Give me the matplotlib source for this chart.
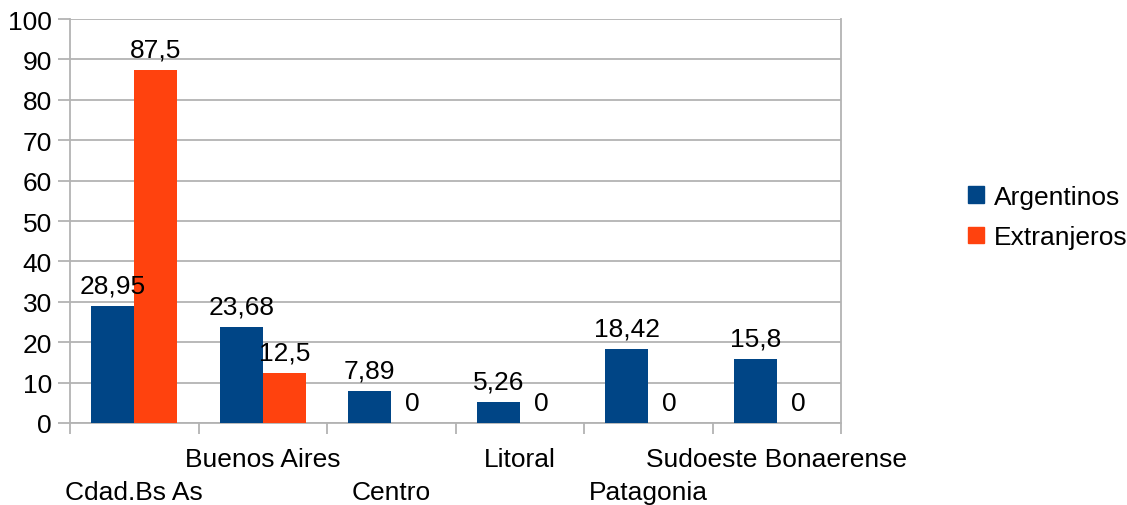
# Grouped bar chart: Argentinos vs Extranjeros by region

import matplotlib.pyplot as plt
from matplotlib.patches import Patch
import numpy as np

plt.rcParams['font.family'] = ['Liberation Sans', 'DejaVu Sans']

# Data
regions = ["Cdad.Bs As", "Buenos Aires", "Centro", "Litoral", "Patagonia", "Sudoeste Bonaerense"]
argentinos = [28.95, 23.68, 7.89, 5.26, 18.42, 15.8]
extranjeros = [87.5, 12.5, 0, 0, 0, 0]

blue = "#004586"
orange = "#ff420e"
gray = "#b3b3b3"

fig = plt.figure(figsize=(11.27, 5.06), dpi=100)
ax = fig.add_axes([70 / 1127, (506 - 424) / 506, 771 / 1127, 404 / 506])

x = np.arange(len(regions))
w = 0.335
b1 = ax.bar(x - w / 2, argentinos, w, color=blue, zorder=3)
b2 = ax.bar(x + w / 2, extranjeros, w, color=orange, zorder=3)


def fmt(v):
    return f"{v:g}".replace(".", ",")


ax.bar_label(b1, labels=[fmt(v) for v in argentinos], padding=6, fontsize=19)
ax.bar_label(b2, labels=[fmt(v) for v in extranjeros], padding=6, fontsize=19)

ax.set_xlim(-0.5, len(regions) - 0.5)
ax.set_ylim(0, 100)
ax.set_yticks(range(0, 101, 10))
ax.yaxis.grid(True, color=gray, linewidth=1.3)
ax.set_axisbelow(True)

# boundary ticks (major) and staggered category labels (minor)
ax.set_xticks(np.arange(-0.5, len(regions), 1.0))
ax.set_xticklabels([])
ax.set_xticks(x, minor=True)
ax.set_xticklabels(regions, minor=True)
ax.tick_params(axis="x", which="major", length=8, width=1.3, color=gray)
ax.tick_params(axis="x", which="minor", length=0, pad=17, labelsize=19)
for i, t in enumerate(ax.xaxis.get_minor_ticks()):
    if i % 2 == 0:
        t.set_pad(41)
ax.tick_params(axis="y", length=9, width=1.3, color=gray, labelsize=19, pad=4)

for s in ["left", "bottom", "right"]:
    ax.spines[s].set_color(gray)
    ax.spines[s].set_linewidth(1.3)
ax.spines["top"].set_visible(False)

handles = [Patch(color=blue, label="Argentinos"), Patch(color=orange, label="Extranjeros")]
fig.legend(handles=handles, loc="center left", bbox_to_anchor=(944 / 1127, 1 - 218 / 506),
           frameon=False, fontsize=19, handlelength=0.6, handleheight=0.6,
           handletextpad=0.4, labelspacing=0.62)

fig.savefig("out.png", dpi=100)
